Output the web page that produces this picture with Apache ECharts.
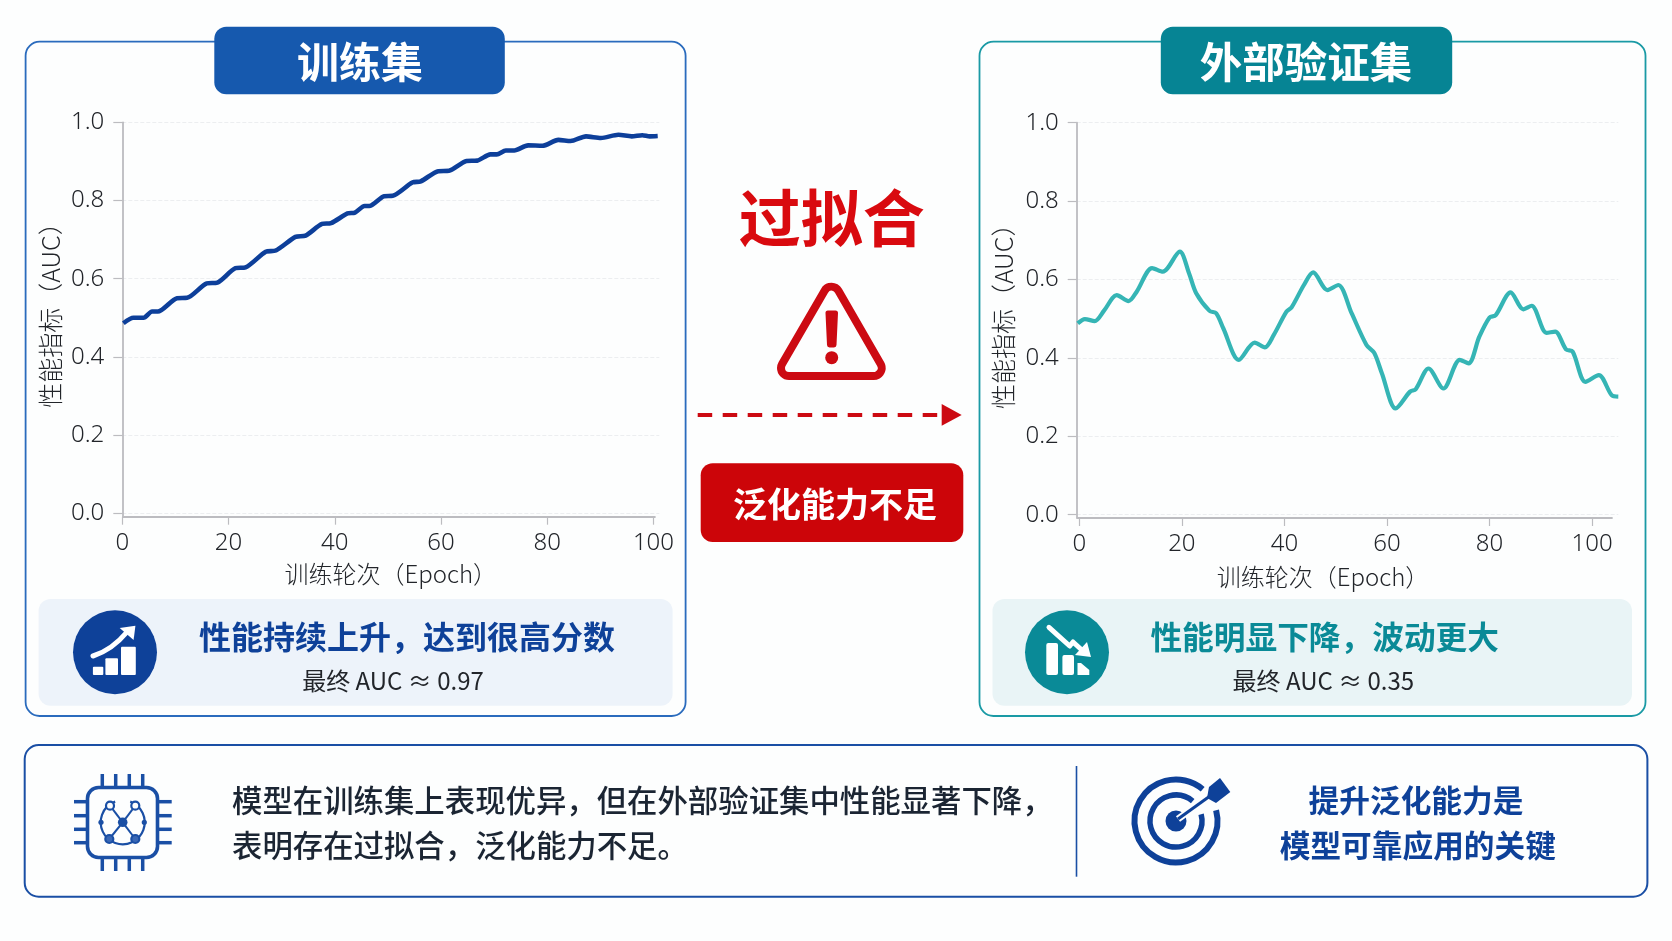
<!DOCTYPE html>
<html><head><meta charset="utf-8">
<style>html,body{margin:0;padding:0;background:#fdfefe}#c{width:1672px;height:941px}</style>
<script src="https://cdn.jsdelivr.net/npm/echarts@6/dist/echarts.min.js"></script>
</head><body><div id="c"></div>
<script>
const xTicks=[0,20,40,60,80,100];
const yTicks=[0,0.2,0.4,0.6,0.8,1.0];
const trainEpochs=[0.2,2.1,4,5.6,6.7,10.3,12.2,15.9,17.9,21.3,23.2,27,28.9,32.6,34.5,37.6,39.3,42.4,43.8,45.6,46.5,49.3,50.9,54.6,56.2,59.5,61.5,64.8,66.8,69.3,70.5,72.2,73.8,76.4,79.1,82.1,84.4,87.3,90.1,93.4,95.9,97.9,99.3,100.8];
const trainAuc=[.486,.5,.5,.516,.516,.55,.551,.588,.59,.627,.629,.669,.672,.707,.71,.74,.742,.767,.769,.786,.786,.811,.812,.846,.849,.875,.876,.901,.902,.918,.918,.928,.928,.941,.94,.955,.952,.964,.96,.968,.964,.967,.964,.965];
const valEpochs=[-.3,1.1,3,4.9,7.3,9.6,11.2,14.2,16.3,19.6,21.4,22.8,25.4,26.7,28.1,31.1,34.2,36.2,37.9,40.4,41.4,43.8,45.6,48.4,50.5,53.1,56,57.5,59,61.7,64.5,65.6,68.1,71,74.2,75.9,78,80,81.2,84.1,86.6,88.2,91.1,92.8,94.9,96.2,98.7,101.3,103.8,105.1];
const valAuc=[.488,.499,.494,.522,.56,.545,.569,.629,.62,.671,.616,.565,.52,.514,.475,.395,.439,.427,.458,.518,.529,.586,.618,.573,.586,.514,.433,.413,.361,.271,.314,.32,.373,.322,.395,.386,.454,.503,.509,.567,.524,.533,.464,.467,.422,.416,.339,.356,.305,.301];
const yName='性能指标（AUC）', xName='训练轮次（Epoch）';

const CJK='"Noto Sans CJK SC"';
const BLUE='#0e4199', TEAL='#0a8a97', RED='#cc0a12', INK='#22252a', AXC='#bcbcc0';
const pair=(xs,ys)=>xs.map((x,i)=>[x,ys[i]]);

function rect(x,y,w,h,r,fill,stroke,lw){return {type:'rect',shape:{x,y,width:w,height:h,r},style:{fill:fill||'none',stroke:stroke||null,lineWidth:lw||0}};}
function txt(t,x,y,size,color,weight,family,align){return {type:'text',x,y,style:{text:t,fill:color,font:(weight||400)+' '+size+'px '+(family||CJK),textAlign:align||'center',textVerticalAlign:'middle'}};}
function line(x1,y1,x2,y2,color,lw,extra){return {type:'line',shape:{x1,y1,x2,y2},style:Object.assign({stroke:color,lineWidth:lw,lineCap:'butt'},extra||{})};}
function poly(points,style){return {type:'polygon',shape:{points},style};}
function pline(points,color,lw){return {type:'polyline',shape:{points},style:{stroke:color,lineWidth:lw,fill:'none',lineCap:'round',lineJoin:'round'}};}
function circ(cx,cy,r,fill,stroke,lw){return {type:'circle',shape:{cx,cy,r},style:{fill:fill||'none',stroke:stroke||null,lineWidth:lw||0}};}
function arc(cx,cy,r,a,b,color,lw){return {type:'arc',shape:{cx,cy,r,startAngle:a*Math.PI/180,endAngle:b*Math.PI/180,clockwise:true},style:{stroke:color,lineWidth:lw,fill:'none'}};}

const g=[];
// panels
g.push(rect(25.6,41.7,660,674.3,14,null,'#2a6bbd',1.8));
g.push(rect(979.5,41.7,666,674.3,14,null,'#1a9aa5',1.8));
g.push(rect(214.3,26.7,290.5,67.6,12,'#1659ae'));
g.push(txt('训练集',360,62,42,'#fff',700));
g.push(rect(1160.8,26.7,291.4,67.6,12,'#068494'));
g.push(txt('外部验证集',1306,62,42.5,'#fff',700));
// callouts
g.push(rect(38.6,599,634,106.7,12,'#edf3fa'));
g.push(rect(992.5,599,639.5,106.7,12,'#e9f4f6'));
g.push(circ(115,652.3,42,BLUE));
g.push(circ(1067,652.3,42,TEAL));
g.push(txt('性能持续上升，达到很高分数',407,637,32,BLUE,700));
g.push(txt('性能明显下降，波动更大',1324.7,637,31.7,TEAL,700));
g.push(txt('最终 AUC ≈ 0.97',393,680.7,24,INK,400));
g.push(txt('最终 AUC ≈ 0.35',1323.4,680.7,24,INK,400));
// up icon
g.push(rect(92.9,666.7,10.4,8.3,1,'#fff'));
g.push(rect(105.4,658.3,12.6,16.7,1,'#fff'));
g.push(rect(121,646.7,14.8,28.3,1,'#fff'));
g.push({type:'bezierCurve',shape:{x1:93,y1:656,x2:127,y2:632,cpx1:112,cpy1:650},style:{stroke:'#fff',lineWidth:5,fill:'none',lineCap:'round'}});
g.push(poly([[135.4,625.7],[119.7,628],[133.6,640]],{fill:'#fff'}));
// down icon
g.push(rect(1046.3,643,11.7,32,2,'#fff'));
g.push(rect(1062.4,655,11.6,20,2,'#fff'));
g.push(poly([[1077.5,663],[1081,663],[1089.3,670],[1089.3,675],[1077.5,675]],{fill:'#fff'}));
g.push(pline([[1049,627.3],[1069.7,646],[1073,642],[1084,652]],'#fff',5));
g.push(poly([[1091,657],[1075,655],[1087,642]],{fill:'#fff'}));
// middle
g.push(txt('过拟合',831.7,218,62,'#d90a0f',700));
g.push(poly([[831.5,294.7],[873.7,368],[789,368]],{fill:RED,stroke:RED,lineWidth:24,lineJoin:'round'}));
g.push(poly([[831.5,294.7],[873.7,368],[789,368]],{fill:'#fdfefe',stroke:'#fdfefe',lineWidth:8,lineJoin:'round'}));
g.push(poly([[828,313],[835.5,313],[834,345],[829.5,345]],{fill:RED,stroke:RED,lineWidth:5,lineJoin:'round'}));
g.push(circ(831.7,357.7,6.5,RED));
g.push(line(697.7,415,942,415,RED,4,{lineDash:[14.5,10.5]}));
g.push(poly([[941.7,404],[961.7,415],[941.7,425.7]],{fill:RED}));
g.push(rect(700.7,463.3,262.6,78.7,12,'#cc0509'));
g.push(txt('泛化能力不足',835,504,34,'#fff',700));
// bottom
g.push(rect(24.7,745,1622.7,151.7,14,null,'#1a4fa5',2));
g.push(line(1076.5,766,1076.5,876.7,'#1a4fa5',1.6));
g.push(txt('模型在训练集上表现优异，但在外部验证集中性能显著下降，',232,800,30.4,'#1b2533',500,CJK,'left'));
g.push(txt('表明存在过拟合，泛化能力不足。',232,845,30.4,'#1b2533',500,CJK,'left'));
g.push(txt('提升泛化能力是',1416,800,30.7,BLUE,700));
g.push(txt('模型可靠应用的关键',1417.8,845,30.7,BLUE,700));
// chip
const CHIP='#1a4fa5';
g.push(rect(87.5,787.5,70,70,11,'#fdfefe',CHIP,3.6));
[102.3,115.7,129.3,142.7].forEach(x=>{g.push(line(x,774,x,786,CHIP,3.5));g.push(line(x,859,x,871,CHIP,3.5));});
[801.7,815.7,829.3,842.7].forEach(y=>{g.push(line(74,y,86,y,CHIP,3.5));g.push(line(159,y,171.7,y,CHIP,3.5));});
[[110,805.7],[135.3,805.7],[109.3,839],[135.3,839]].forEach(p=>g.push(line(p[0],p[1],122.7,822.3,CHIP,2)));
g.push(arc(122.7,822.3,22,-70,250,CHIP,2.2));
[[110,805.7,'#fdfefe'],[135.3,805.7,'#fdfefe'],[109.3,839,'#3a68b5'],[135.3,839,'#3a68b5']].forEach(p=>g.push(circ(p[0],p[1],4,p[2],CHIP,2.2)));
g.push(circ(122.7,822.3,4.8,CHIP));
g.push(circ(101,822.3,2.6,CHIP));
g.push(circ(144.3,822.3,2.6,CHIP));
// target
const TG='#0e4199';
g.push(arc(1176,821,41.5,-15,310,TG,6));
g.push(arc(1176,821,26,-15,310,TG,5.5));
g.push(circ(1176,821,10.5,TG));
g.push(line(1178,819,1210,796,'#fdfefe',7));
g.push(line(1178,819,1210,796,TG,3));
g.push(poly([[1220,778],[1230.3,792],[1216,803],[1207,798],[1209,787]],{fill:TG}));

const AXF='"Noto Sans"';
function axisSet(gridIdx,xr,ymin,xPad,xGap,yPad,yGap){return {
 x:{type:'value',gridIndex:gridIdx,min:xr[0],max:xr[1],
  name:xName,nameLocation:'middle',nameGap:xGap,
  nameTextStyle:{fontFamily:CJK,fontSize:24,fontWeight:300,color:INK,padding:[0,xPad,0,0]},
  axisLine:{show:false,onZero:false},
  axisTick:{show:true,length:8,customValues:xTicks,lineStyle:{color:AXC,width:1.2}},
  axisLabel:{customValues:xTicks,margin:14,fontFamily:AXF,fontSize:24,fontWeight:300,color:INK,showMinLabel:true,showMaxLabel:true,formatter:v=>String(v)},
  splitLine:{show:false}},
 y:{type:'value',gridIndex:gridIdx,min:ymin,max:1,
  name:yName,nameLocation:'middle',nameGap:yGap,nameRotate:90,
  nameTextStyle:{fontFamily:CJK,fontSize:25,fontWeight:300,color:INK,padding:[0,0,0,yPad]},
  axisLine:{show:true,onZero:false,lineStyle:{color:AXC,width:1.8}},
  axisTick:{show:true,length:9,customValues:yTicks,lineStyle:{color:AXC,width:1.2}},
  axisLabel:{customValues:yTicks,margin:18,fontFamily:AXF,fontSize:24,fontWeight:300,color:INK,padding:[5,0,0,0],formatter:v=>v.toFixed(1)},
  splitLine:{show:true,lineStyle:{color:'#eceef0',width:1,type:'dashed'}}}
};}
const yMin0=-0.0087, yMin1=-0.0084;
const a0=axisSet(0,[0,101.1],yMin0,0,45,21,59);
const a1=axisSet(1,[-0.5,105.1],yMin1,38+11,46.5,20,61);
function baseLine(x0,x1,y){return {silent:true,symbol:'none',animation:false,label:{show:false},lineStyle:{color:AXC,width:1.8,type:'solid'},data:[[{coord:[x0,y]},{coord:[x1,y]}]]};}
const option={
 animation:false,
 backgroundColor:'#fdfefe',
 grid:[
  {left:122.3,top:122.3,width:537,height:394.4,containLabel:false},
  {left:1076.7,top:122.7,width:541.6,height:395.3,containLabel:false}
 ],
 xAxis:[a0.x,a1.x],
 yAxis:[a0.y,a1.y],
 series:[
  {type:'line',xAxisIndex:0,yAxisIndex:0,data:pair(trainEpochs,trainAuc),showSymbol:false,smooth:0.25,clip:false,lineStyle:{color:'#0d3f9a',width:4.6},z:3,markLine:baseLine(0,100.4,yMin0)},
  {type:'line',xAxisIndex:1,yAxisIndex:1,data:pair(valEpochs,valAuc),showSymbol:false,smooth:0.3,clip:false,lineStyle:{color:'#35b5b5',width:4.2},z:3,markLine:baseLine(-0.5,104,yMin1)}
 ],
 graphic:{elements:g}
};
echarts.init(document.getElementById('c'),null,{renderer:'canvas'}).setOption(option);
</script></body></html>
